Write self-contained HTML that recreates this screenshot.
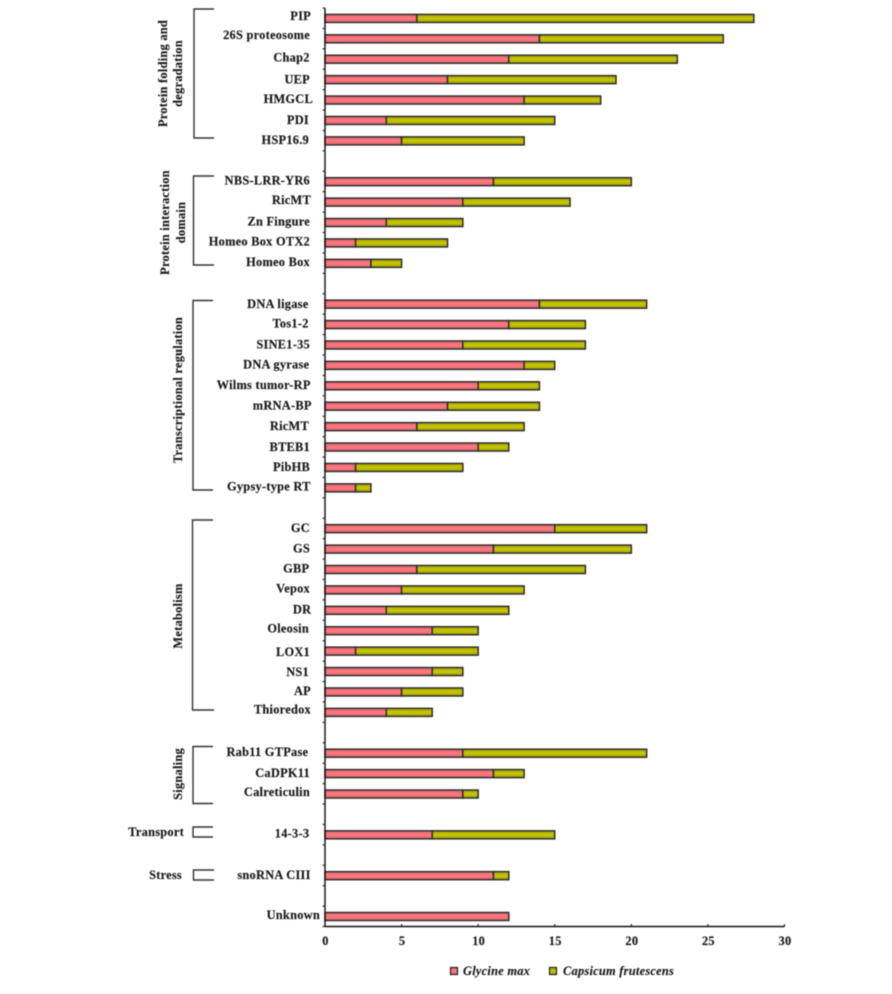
<!DOCTYPE html>
<html lang="en">
<head>
<meta charset="utf-8">
<title>Gene counts by functional category</title>
<style>
html,body{margin:0;padding:0;background:#fff;}
body{width:892px;height:994px;overflow:hidden;}
svg{display:block;}
text{font-family:"Liberation Serif",serif;font-weight:bold;font-size:12.4px;fill:#1a1a1a;stroke:#1a1a1a;stroke-width:.15px;letter-spacing:.25px;}
.soft{filter:blur(.4px);}
</style>
</head>
<body>
<svg id="chart" width="892" height="994" viewBox="0 0 892 994">
<defs>
<linearGradient id="pinkFill" x1="0" y1="0" x2="0" y2="1">
<stop offset="0" stop-color="#e0656f"/><stop offset=".5" stop-color="#ff7a80"/><stop offset="1" stop-color="#e0656f"/>
</linearGradient>
<linearGradient id="oliveFill" x1="0" y1="0" x2="0" y2="1">
<stop offset="0" stop-color="#a3a300"/><stop offset=".5" stop-color="#c8c800"/><stop offset="1" stop-color="#a3a300"/>
</linearGradient>
</defs>
<g class="soft" id="root">
<g>
<text transform="translate(167,73.500) rotate(-90)" text-anchor="middle">Protein folding and</text>
<text transform="translate(182,73.500) rotate(-90)" text-anchor="middle">degradation</text>
<text transform="translate(169,222.500) rotate(-90)" text-anchor="middle">Protein interaction</text>
<text transform="translate(185,222.500) rotate(-90)" text-anchor="middle">domain</text>
<text transform="translate(182,390) rotate(-90)" text-anchor="middle">Transcriptional regulation</text>
<text transform="translate(182,616) rotate(-90)" text-anchor="middle">Metabolism</text>
<text transform="translate(182,774) rotate(-90)" text-anchor="middle">Signaling</text>
<text x="184" y="836" text-anchor="end">Transport</text>
<text x="182" y="879" text-anchor="end">Stress</text>
</g>
<g fill="none" stroke="#333" stroke-width="1.4">
<path d="M214 9H194V138H214"/>
<path d="M214 176H193.500V265H214"/>
<path d="M213 300.500H193V490H213"/>
<path d="M213 520H192.500V710H214"/>
<path d="M213 746.500H193V803.500H213"/>
<path d="M213 827H193V837H213"/>
<path d="M214 870H193.500V880H214"/>
</g>
<g id="bars"></g>
<g id="axes"></g>
<g id="labels"></g>
<g>
<rect x="450.500" y="967.500" width="7" height="7" fill="url(#pinkFill)" stroke="#222" stroke-width="1.2"/>
<text x="463" y="975" style="font-style:italic">Glycine max</text>
<rect x="549.500" y="967.500" width="7" height="7" fill="url(#oliveFill)" stroke="#222" stroke-width="1.2"/>
<text x="563" y="975" style="font-style:italic">Capsicum frutescens</text>
</g>
</g>
</svg>
<script>
// Chart data: empty strings are the blank spacer rows between functional groups
const categories = ["PIP","26S proteosome","Chap2","UEP","HMGCL","PDI","HSP16.9","",
  "NBS-LRR-YR6","RicMT","Zn Fingure","Homeo Box OTX2","Homeo Box","",
  "DNA ligase","Tos1-2","SINE1-35","DNA gyrase","Wilms tumor-RP","mRNA-BP","RicMT","BTEB1","PibHB","Gypsy-type RT","",
  "GC","GS","GBP","Vepox","DR","Oleosin","LOX1","NS1","AP","Thioredox","",
  "Rab11 GTPase","CaDPK11","Calreticulin","","14-3-3","","snoRNA CIII","","Unknown"];
const glycineMax = [6,14,12,8,13,4,5,0,
  11,9,4,2,3,0,
  14,12,9,13,10,8,6,10,2,2,0,
  15,11,6,5,4,7,2,7,5,4,0,
  9,11,9,0,7,0,11,0,12];
const capsicumFrutescens = [22,12,11,11,5,11,8,0,
  9,7,5,6,2,0,
  7,5,8,2,4,6,7,2,7,1,0,
  6,9,11,8,8,3,8,2,4,3,0,
  12,2,1,0,8,0,1,0,0];
const xTickValues = [0,5,10,15,20,25,30];

// Axis geometry
const NS = 'http://www.w3.org/2000/svg';
const plotLeft = 325, plotRight = 784.5, plotTop = 8, plotBottom = 926.5;
const xMax = 30;
const barHeight = 8;
function xScale(v){ return plotLeft + v / xMax * (plotRight - plotLeft); }
function slotHeight(){ return (plotBottom - plotTop) / categories.length; }
function yCenter(i){ return plotTop + slotHeight() * (i + 0.5) + 0.2; }
function mk(tag, attrs, parent){
  const el = document.createElementNS(NS, tag);
  for (const k in attrs) el.setAttribute(k, attrs[k]);
  parent.appendChild(el);
  return el;
}

// Hand-placed label offsets seen in the figure, keyed by slot: [dx, dy]
const labelNudges = {
  0:[1,-2.2], 1:[0,-3.5], 2:[-.3,-1.7], 3:[0,.2], 4:[3,-.7], 5:[-1,-.3], 6:[-1,-.7],
  8:[0,-1], 9:[1,-2], 10:[0,-1], 11:[0,-1], 12:[0,-1],
  14:[-1.5,0], 15:[-1.3,-1], 16:[0,-.5], 17:[-.7,-.6], 18:[.7,-.7], 19:[1.7,-.3], 20:[-1,-.5], 22:[0,-.3], 23:[.7,-1.3],
  25:[0,-.5], 26:[0,-.3], 27:[-.7,-.6], 28:[0,-1.3], 29:[1.3,-.4], 30:[-1,-1.8], 31:[0,1.1], 32:[-1,.4], 33:[1,-.7], 34:[1,-2.7],
  36:[-1.7,-1.2], 37:[0,-.3], 38:[0,-1.7],
  40:[-.7,-1], 42:[.7,-.5], 44:[10,-1.3]
};

const barsG = document.getElementById('bars');
const labelsG = document.getElementById('labels');
const axesG = document.getElementById('axes');

categories.forEach(function(name, i){
  if (!name) return;
  const y = yCenter(i) - barHeight / 2;
  const a = glycineMax[i], b = capsicumFrutescens[i];
  const slug = name.toLowerCase().replace(/[^a-z0-9]+/g, '-') + '-' + i;
  const r1 = mk('rect', {x: xScale(0), y: y, width: xScale(a) - xScale(0), height: barHeight, fill: 'url(#pinkFill)', stroke: '#2e2e2e', 'stroke-width': 1.5}, barsG);
  
  
  if (b > 0) {
    const r2 = mk('rect', {x: xScale(a), y: y, width: xScale(a + b) - xScale(a), height: barHeight, fill: 'url(#oliveFill)', stroke: '#2e2e2e', 'stroke-width': 1.5}, barsG);
    
    
  }
  const n = labelNudges[i] || [0, 0];
  const t = mk('text', {x: 310 + n[0], y: yCenter(i) + 3.8 + n[1], 'text-anchor': 'end'}, labelsG);
  t.textContent = name;
  
  
});

// Y axis and its category-boundary ticks
const yAxis = mk('line', {x1: plotLeft, x2: plotLeft, y1: plotTop, y2: plotBottom, stroke: '#111', 'stroke-width': 1.4}, axesG);


for (let i = 0; i <= categories.length; i++) {
  const yy = plotTop + slotHeight() * i;
  const tk = mk('line', {x1: plotLeft - 2.5, x2: plotLeft, y1: yy, y2: yy, stroke: '#111', 'stroke-width': 1}, axesG);
  
  
}

// X axis
const xAxis = mk('line', {x1: plotLeft, x2: plotRight, y1: plotBottom, y2: plotBottom, stroke: '#111', 'stroke-width': 1.4}, axesG);


xTickValues.forEach(function(v){
  const tk = mk('line', {x1: xScale(v), x2: xScale(v), y1: plotBottom - 2.5, y2: plotBottom, stroke: '#111', 'stroke-width': 1}, axesG);
  
  
  const lb = mk('text', {x: xScale(v) + 0.5, y: 945, 'text-anchor': 'middle'}, axesG);
  lb.textContent = v;
  
  
});
</script>
</body>
</html>
